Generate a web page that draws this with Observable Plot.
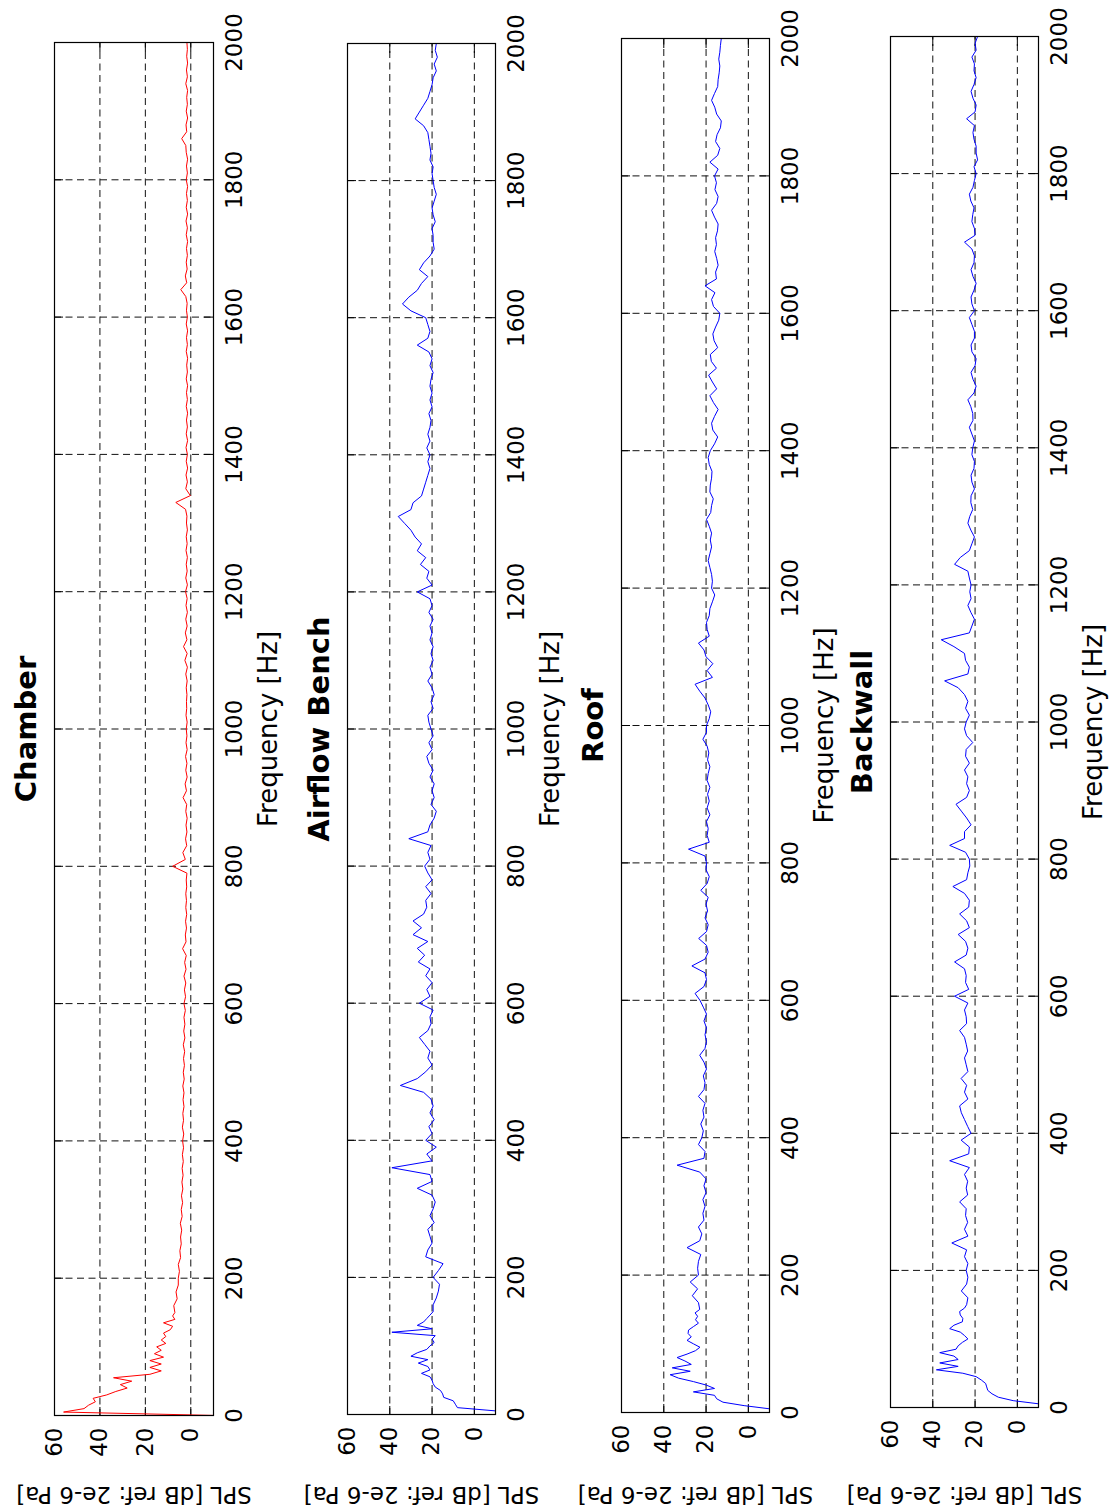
<!DOCTYPE html>
<html>
<head>
<meta charset="utf-8">
<script src="https://cdn.jsdelivr.net/npm/d3@7"></script>
<script src="https://cdn.jsdelivr.net/npm/@observablehq/plot@0.6"></script>
<style>
  html, body { margin: 0; padding: 0; background: #fff; width: 1110px; height: 1511px; overflow: hidden; }
  /* The figure is laid out landscape and turned a quarter turn counter-clockwise. */
  #figure {
    position: absolute; left: 0; top: 0; width: 1511px; height: 1110px;
    transform-origin: 0 0; transform: translate(0px, 1511px) rotate(-90deg);
  }
  #figure svg { position: absolute; left: 0; overflow: visible; }
</style>
</head>
<body>
<div id="figure"></div>
<script>
// Spectrum bins [Hz]: 5 Hz spacing up to 150 Hz, 10 Hz spacing above.
const freqHz = [
  0, 5, 10, 15, 20, 25, 30, 35, 40, 45, 50, 55, 60, 65, 70, 75, 80, 85, 90, 95,
  100, 105, 110, 115, 120, 125, 130, 135, 140, 145, 150,
  160, 170, 180, 190, 200, 210, 220, 230, 240, 250,
  260, 270, 280, 290, 300, 310, 320, 330, 340, 350,
  360, 370, 380, 390, 400, 410, 420, 430, 440, 450,
  460, 470, 480, 490, 500, 510, 520, 530, 540, 550,
  560, 570, 580, 590, 600, 610, 620, 630, 640, 650,
  660, 670, 680, 690, 700, 710, 720, 730, 740, 750,
  760, 770, 780, 790, 800, 810, 820, 830, 840, 850,
  860, 870, 880, 890, 900, 910, 920, 930, 940, 950,
  960, 970, 980, 990, 1000, 1010, 1020, 1030, 1040, 1050,
  1060, 1070, 1080, 1090, 1100, 1110, 1120, 1130, 1140, 1150,
  1160, 1170, 1180, 1190, 1200, 1210, 1220, 1230, 1240, 1250,
  1260, 1270, 1280, 1290, 1300, 1310, 1320, 1330, 1340, 1350,
  1360, 1370, 1380, 1390, 1400, 1410, 1420, 1430, 1440, 1450,
  1460, 1470, 1480, 1490, 1500, 1510, 1520, 1530, 1540, 1550,
  1560, 1570, 1580, 1590, 1600, 1610, 1620, 1630, 1640, 1650,
  1660, 1670, 1680, 1690, 1700, 1710, 1720, 1730, 1740, 1750,
  1760, 1770, 1780, 1790, 1800, 1810, 1820, 1830, 1840, 1850,
  1860, 1870, 1880, 1890, 1900, 1910, 1920, 1930, 1940, 1950,
  1960, 1970, 1980, 1990, 2000
];

// SPL [dB ref 2e-6 Pa] per bin, one array per measurement position.
const chamberSpl = [
  -12, 56, 47, 45, 42, 43, 37, 33, 28, 31, 26, 34, 18, 13, 18, 13, 18, 12, 16, 13,
  15, 11, 13, 11, 12, 9, 8, 12, 7, 8, 7,
  7.5, 6, 6.5, 5.5, 5.5, 5, 5.5, 4.5, 4.8, 4.2,
  4.5, 4, 4.6, 3.8, 4.2, 3.6, 4.1, 3.5, 3.9, 3.4,
  3.8, 3.3, 3.7, 3.2, 3.6, 3.1, 3.7, 3.2, 3.5, 3.0,
  3.4, 3.0, 3.5, 2.9, 3.3, 2.8, 3.2, 2.7, 3.3, 2.6,
  3.1, 2.6, 3.0, 2.4, 3.0, 2.3, 2.8, 2.2, 3.0, 2.1,
  2.7, 2.0, 3.6, 2.1, 2.4, 1.9, 2.3, 1.8, 2.2, 1.9,
  2.2, 1.8, 2.0, 1.7, 8.0, 2.4, 3.5, 1.8, 2.3, 1.7,
  2.1, 1.6, 2.2, 1.8, 3.4, 1.9, 2.5, 1.6, 2.2, 1.7,
  2.3, 1.6, 2.1, 1.7, 2.0, 1.6, 2.1, 1.8, 1.9, 1.7,
  2.0, 1.6, 2.2, 1.5, 2.6, 1.6, 3.2, 1.7, 2.4, 1.6,
  2.2, 1.5, 2.1, 1.6, 2.3, 1.5, 2.2, 1.6, 2.0, 1.5,
  2.1, 1.6, 2.0, 1.5, 1.9, 1.7, 2.3, 6.6, 0.2, 2.2,
  1.5, 2.1, 1.4, 2.0, 1.5, 2.1, 1.4, 2.0, 1.5, 1.9,
  1.4, 2.0, 1.5, 1.9, 1.4, 2.0, 1.5, 1.8, 1.4, 2.0,
  1.5, 1.9, 1.4, 2.0, 1.5, 1.9, 1.6, 2.2, 4.4, 1.8,
  2.4, 1.6, 2.0, 1.5, 1.9, 1.4, 2.0, 1.5, 2.1, 1.4,
  2.0, 1.5, 1.9, 1.4, 2.0, 1.5, 1.9, 1.4, 2.0, 2.2,
  4.0, 1.8, 2.1, 1.4, 2.0, 1.5, 1.8, 1.4, 2.2, 1.5,
  1.9, 1.4, 1.8, 1.5, 1.7
];

const airflowBenchSpl = [
  -12, -11, 8, 9, 10, 14.5, 15, 16, 18.5, 19.5, 20, 21, 25, 21, 22, 26.5, 22, 30, 27, 22.5,
  21, 19, 20, 18.5, 39, 20, 27, 24, 22.5, 21, 19.5,
  19.5, 18, 17, 16.5, 19.5, 17, 14.8, 23, 22, 20,
  21, 22, 19, 21, 19.5, 18.5, 20, 27, 20, 21,
  39, 20, 22.5, 18, 23, 20, 21.5, 19, 21, 19.5,
  20.5, 24, 35, 27, 23, 20, 22, 21, 23.5, 26,
  22, 20.5, 21, 19.5, 26, 21, 22.5, 20, 23, 21,
  26.5, 23.5, 27, 22, 29, 25, 29, 24, 22.5, 23,
  20.5, 23, 20, 22, 23.5, 21, 22, 20.5, 31, 22,
  21, 19, 18, 20.5, 19, 20, 19, 21, 19.5, 21.5,
  22.5, 20, 21.5, 19.5, 20.5, 21.5, 22, 19.5, 20.5, 19,
  20, 22, 20, 21, 19.5, 20.5, 19.5, 21, 20, 21,
  19.5, 21.5, 20, 21, 27, 20, 22.5, 21.5, 25.5, 23,
  27, 25, 28, 30, 33, 36, 30, 29, 25, 24,
  23, 22, 21, 22, 21, 22.5, 21, 22, 21, 20.5,
  21.5, 20, 21, 20, 21, 20.5, 19.5, 21, 20, 21.5,
  27, 22, 21, 22, 23, 30, 34, 31, 27, 25,
  22, 26, 24, 21, 19, 19.5, 19.5, 20, 18.5, 19.5,
  20, 19, 18, 19, 19.5, 20, 19.5, 21, 20.5, 21,
  21.5, 22, 24, 28, 26, 24, 22, 21, 20, 19.5,
  18, 19, 17.5, 18.5, 18
];

const roofSpl = [
  -12, -11, 2, 12, 15, 16, 26, 16, 20, 26, 33, 37, 27.5, 36, 27, 30, 33.7, 29, 25, 22.9,
  26, 29, 27, 28.5, 28.3, 26, 23.6, 25, 24, 25.2, 23,
  23.6, 26.5, 24, 27.5, 23.6, 24, 23.6, 22.5, 29, 23,
  22, 23.6, 21, 21.5, 20.5, 21.5, 20, 21, 20, 23,
  33.7, 21, 20.5, 23.6, 22, 21.3, 22.5, 21, 21.5, 20.5,
  23.6, 21, 20.5, 21.3, 19.8, 21, 23, 20.5, 19.8, 20.5,
  19.8, 21, 19.8, 21.3, 22.9, 25.2, 21, 19.8, 20.5, 26.7,
  20.5, 19, 19.8, 23.5, 19.8, 19, 20.5, 19.3, 20, 19,
  22.5, 19.5, 18.5, 20, 19.8, 20.5, 28.3, 18.5, 19.5, 19,
  19.8, 18.2, 19.5, 18.5, 19.3, 18.2, 19.5, 19, 18.2, 19.3,
  18.7, 19.5, 21.5, 19.8, 19.8, 18.5, 17.8, 19, 20.5, 23,
  25.2, 17, 19.5, 16.8, 20, 21, 23.6, 18.5, 19.5, 19.8,
  18.5, 18.2, 17, 15.9, 17.4, 17, 17.4, 18.2, 19, 18.2,
  17.4, 18, 17.4, 18.5, 19.8, 17.8, 17.4, 16.6, 18.2, 18,
  17.4, 17.2, 18.5, 19, 18, 16, 14.5, 16.8, 17.4, 16,
  14.3, 16.5, 18.2, 15, 17, 18.8, 15.1, 17.5, 18, 14.5,
  16.2, 16.8, 15.5, 14, 13.5, 16.5, 17.4, 15.8, 20.5, 15.1,
  15.5, 14.3, 15, 15.9, 15.1, 15.5, 14.6, 14.3, 16, 17.4,
  15, 14.3, 15.8, 15.1, 16, 14.3, 18.2, 14.5, 13.5, 15.5,
  14.8, 13.2, 12.8, 15, 15.9, 17.4, 16, 14.5, 14.3, 13.8,
  13.5, 14, 13.5, 13.2, 12.8
];

const backwallSpl = [
  -12, -11, 2, 9, 12, 14, 14.5, 15, 17, 19.5, 25.8, 38.3, 28, 36.7, 28, 30, 36.7, 29, 28, 26,
  23.4, 25, 27, 32, 30, 26, 25.8, 27, 27.3, 25, 24,
  23.4, 26.5, 24, 23.4, 24.2, 23.4, 25, 24, 31, 23.4,
  25, 23.5, 24.5, 24.2, 27.3, 23.5, 24.2, 23.5, 25, 22.7,
  32, 23, 22.7, 26.6, 21.9, 23.5, 25, 26.5, 27.3, 23.4,
  25, 24, 26.6, 23.4, 24.2, 25, 23.5, 24.2, 25, 27.3,
  24, 24.2, 25, 23.4, 29.7, 23, 24.5, 24.2, 25, 29.7,
  24.2, 23.4, 24.5, 28, 22.7, 24, 27.3, 23, 22.7, 25,
  30.5, 24, 23.4, 22.5, 22.7, 24.5, 32, 25, 25, 21.9,
  24, 26.5, 29, 24, 22.7, 24, 23.4, 25, 22.7, 24.5,
  24.2, 21.1, 24, 25, 24.2, 22.7, 24.5, 23.4, 25, 28,
  34.4, 23.4, 22.7, 24.5, 25, 30, 36, 22.7, 21.5, 20.3,
  22, 23.4, 21.9, 22.5, 21.9, 22.7, 23.4, 29.7, 27, 22.7,
  21.5, 20.3, 22, 23.4, 22.5, 21.1, 22, 21.9, 20.3, 21.5,
  21.9, 20.5, 20.3, 21.5, 21.1, 20.3, 21.5, 22.7, 21, 21.1,
  22, 23.4, 20.5, 19.5, 21, 21.9, 20, 19.5, 21.5, 21.9,
  20.3, 20.3, 21.5, 22.7, 20.3, 21.5, 21.9, 20.5, 19.5, 21,
  21.9, 20.5, 20.3, 21.5, 25, 20, 20.3, 21.5, 21.1, 20.5,
  22, 22.7, 21, 20.3, 19.5, 20.5, 18.8, 19.5, 19.5, 20.5,
  21, 20.3, 24, 20, 19.5, 21, 21.9, 20.5, 19.5, 20.5,
  20.3, 21.5, 19.5, 20, 18.8
];

const panelTitles = ["Chamber", "Airflow Bench", "Roof", "Backwall"];
const freqTicks = [0, 200, 400, 600, 800, 1000, 1200, 1400, 1600, 1800, 2000];
const splTicks = [0, 20, 40, 60];
const xLabel = "Frequency [Hz]";
const yLabel = "SPL [dB ref: 2e-6 Pa]";

// Axes boxes in the landscape layout (pixels), one per subplot.
const layout = [
  { left: 95, right: 1468, top: 54, bottom: 213, color: "#ff0000" },
  { left: 96, right: 1467, top: 347, bottom: 495, color: "#0000ff" },
  { left: 98, right: 1472, top: 621, bottom: 769, color: "#0000ff" },
  { left: 103, right: 1474, top: 890, bottom: 1038, color: "#0000ff" }
];
const series = [chamberSpl, airflowBenchSpl, roofSpl, backwallSpl];

series.forEach((s, i) => {
  if (s.length !== freqHz.length) throw new Error(panelTitles[i] + ": " + s.length + " values for " + freqHz.length + " bins");
});

const FIG_W = 1511, M_TOP = 60, M_BOTTOM = 90, TICK = 9;
const grid = { stroke: "#111", strokeOpacity: 1, strokeWidth: 1, strokeDasharray: "7,4.5" };
const plain = d => String(d);
const figure = document.getElementById("figure");

layout.forEach((box, i) => {
  const innerW = box.right - box.left;
  const innerH = box.bottom - box.top;
  const rows = freqHz.map((f, j) => ({ f, spl: series[i][j] }));
  const chart = Plot.plot({
    width: FIG_W,
    height: M_TOP + innerH + M_BOTTOM,
    marginLeft: box.left,
    marginRight: FIG_W - box.right,
    marginTop: M_TOP,
    marginBottom: M_BOTTOM,
    style: { fontFamily: "'DejaVu Sans', sans-serif", fontSize: "23px", color: "#000", background: "transparent" },
    x: { domain: [0, 2000], label: null },
    y: { domain: [-10, 60], label: null },
    marks: [
      Plot.gridX(freqTicks.slice(1, -1), grid),
      Plot.gridY(splTicks.slice(0, -1), grid),
      // inward tick marks on all four sides
      Plot.tickX(freqTicks, { x: d => d, insetTop: innerH - TICK, stroke: "#000" }),
      Plot.tickX(freqTicks, { x: d => d, insetBottom: innerH - TICK, stroke: "#000" }),
      Plot.tickY(splTicks, { y: d => d, insetRight: innerW - TICK, stroke: "#000" }),
      Plot.tickY(splTicks, { y: d => d, insetLeft: innerW - TICK, stroke: "#000" }),
      Plot.line(rows, { x: "f", y: "spl", stroke: box.color, strokeWidth: 1, clip: true }),
      Plot.frame({ stroke: "#000", strokeWidth: 1.2 }),
      Plot.axisX(freqTicks, { anchor: "bottom", tickSize: 0, tickPadding: 12, fontSize: 23, tickFormat: plain, label: null }),
      Plot.axisY(splTicks, { anchor: "left", tickSize: 0, tickPadding: 12, fontSize: 23, tickFormat: plain, label: null }),
      Plot.text([panelTitles[i]], { frameAnchor: "top", dy: -19, lineAnchor: "bottom", textAnchor: "middle", fontSize: 29, fontWeight: "bold" }),
      Plot.text([xLabel], { frameAnchor: "bottom", dy: 63, lineAnchor: "bottom", textAnchor: "middle", fontSize: 26 }),
      Plot.text([yLabel], { frameAnchor: "left", dx: -(box.left - 24), rotate: -90, lineAnchor: "bottom", textAnchor: "middle", fontSize: 23 })
    ]
  });
  chart.style.top = (box.top - M_TOP) + "px";
  figure.appendChild(chart);
});
</script>
</body>
</html>
